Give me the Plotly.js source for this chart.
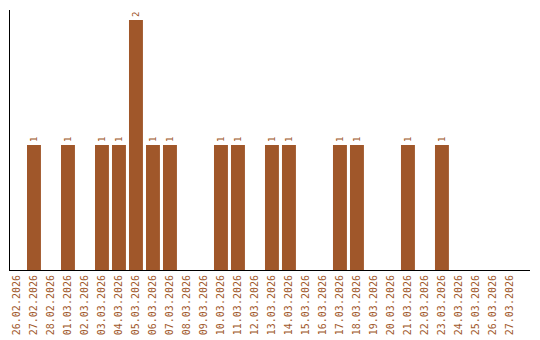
<!DOCTYPE html>
<html><head><meta charset="utf-8">
<script src="https://cdn.plot.ly/plotly-3.0.1.min.js"></script>
<style>body{margin:0;background:#fff}#c{width:540px;height:340px}</style>
</head><body><div id="c"></div>
<script>
const dates = ["26.02.2026","27.02.2026","28.02.2026","01.03.2026","02.03.2026","03.03.2026","04.03.2026","05.03.2026","06.03.2026","07.03.2026","08.03.2026","09.03.2026","10.03.2026","11.03.2026","12.03.2026","13.03.2026","14.03.2026","15.03.2026","16.03.2026","17.03.2026","18.03.2026","19.03.2026","20.03.2026","21.03.2026","22.03.2026","23.03.2026","24.03.2026","25.03.2026","26.03.2026","27.03.2026"];
const counts = [0,1,0,1,0,1,1,2,1,1,0,0,1,1,0,1,1,0,0,1,1,0,0,1,0,1,0,0,0,0];
const labels = counts.map(v => v > 0 ? String(v) : "");
const color = "#a0572a";
Plotly.newPlot("c", [{
  type: "bar", x: dates, y: counts, text: labels,
  textposition: "outside", textangle: -90, cliponaxis: false,
  textfont: {family: "DejaVu Sans Mono", size: 9, color: color},
  marker: {color: color}, width: 0.82, hoverinfo: "none"
}], {
  width: 540, height: 340,
  margin: {l: 10, r: 10, t: 10, b: 70},
  paper_bgcolor: "#fff", plot_bgcolor: "#fff",
  showlegend: false,
  xaxis: {type: "category", range: [-0.41, 30.18], showline: true, linecolor: "#000", linewidth: 1,
    ticks: "", tickangle: -90, tickfont: {family: "DejaVu Sans Mono", size: 10, color: color},
    showgrid: false, zeroline: false, fixedrange: true},
  yaxis: {range: [0, 2.08], showline: true, linecolor: "#000", linewidth: 1, showticklabels: false,
    ticks: "", showgrid: false, zeroline: false, fixedrange: true}
}, {staticPlot: true});
</script></body></html>
